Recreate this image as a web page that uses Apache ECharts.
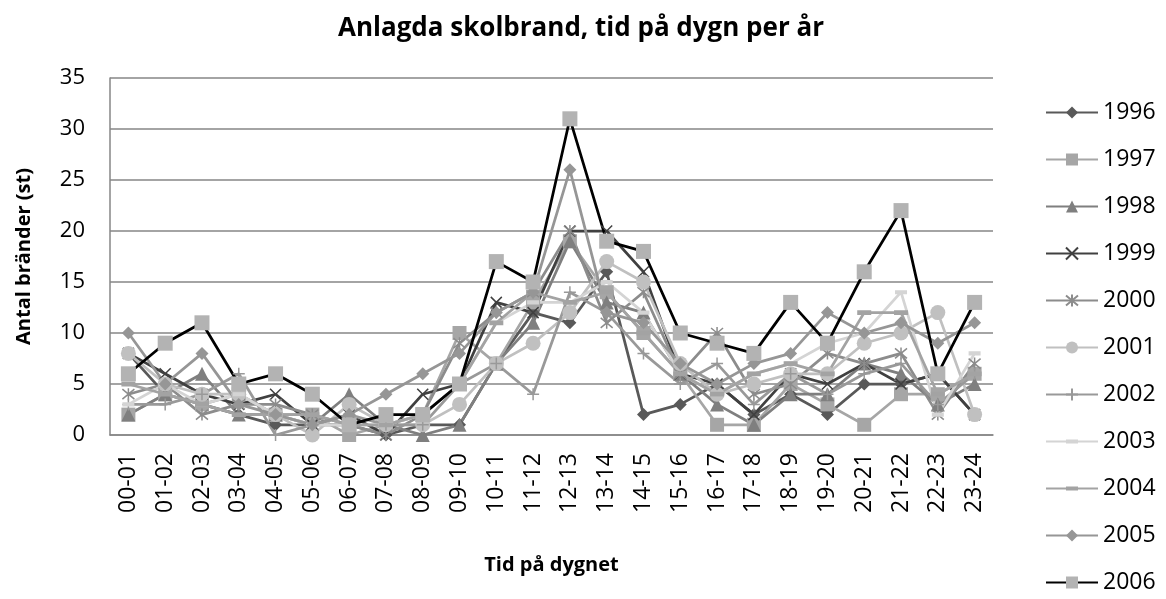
<!DOCTYPE html>
<html>
<head>
<meta charset="utf-8">
<script src="https://cdn.jsdelivr.net/npm/echarts@6/dist/echarts.min.js"></script>
<style>
  html, body { margin: 0; padding: 0; background: #fff; }
  #chart { width: 1166px; height: 599px; }
</style>
</head>
<body>
<div id="chart"></div>
<script>
const hours = ["00-01", "01-02", "02-03", "03-04", "04-05", "05-06", "06-07", "07-08",
  "08-09", "09-10", "10-11", "11-12", "12-13", "13-14", "14-15", "15-16",
  "16-17", "17-18", "18-19", "19-20", "20-21", "21-22", "22-23", "23-24"];

const y1996 = [8, 4, 3, 2, 1, 1, 1, 0, 1, 1, 7, 12, 11, 16, 2, 3, 5, 2, 4, 2, 5, 5, 6, 2];
const y1997 = [2, 4, 3, 4, 2, 2, 0, 1, 2, 10, 7, 13, 19, 14, 10, 6, 1, 1, 5, 3, 1, 4, 4, 6];
const y1998 = [2, 4, 6, 2, 2, 1, 4, 1, 0, 1, 7, 11, 19, 13, 12, 6, 3, 1, 4, 4, 7, 6, 3, 5];
const y1999 = [8, 6, 4, 3, 4, 1, 2, 0, 4, 5, 13, 12, 20, 20, 16, 6, 5, 2, 6, 5, 7, 5, 6, 2];
const y2000 = [4, 5, 2, 3, 3, 2, 1, 0, 2, 9, 12, 14, 20, 11, 14, 6, 10, 4, 5, 8, 7, 8, 2, 7];
const y2001 = [8, 5, 4, 4, 2, 0, 3, 1, 1, 3, 7, 9, 12, 17, 15, 7, 4, 5, 6, 6, 9, 10, 12, 2];
const y2002 = [3, 3, 4, 6, 0, 1, 2, 1, 1, 5, 7, 4, 14, 12, 8, 5, 7, 3, 6, 4, 6, 7, 3, 6];
const y2003 = [3, 5, 3, 4, 2, 1, 1, 1, 2, 5, 11, 13, 13, 15, 12, 6, 4, 6, 7, 9, 10, 14, 2, 8];
const y2004 = [5, 4, 3, 2, 2, 2, 1, 1, 2, 5, 11, 14, 13, 14, 10, 6, 4, 6, 7, 6, 12, 12, 4, 6];
const y2005 = [10, 5, 8, 3, 2, 1, 2, 4, 6, 8, 12, 14, 26, 12, 11, 7, 5, 7, 8, 12, 10, 11, 9, 11];
const y2006 = [6, 9, 11, 5, 6, 4, 1, 2, 2, 5, 17, 15, 31, 19, 18, 10, 9, 8, 13, 9, 16, 22, 6, 13];

const FONT = "Open Sans";
const crossPath = "path://M0,0L10,10M10,0L0,10";
const starPath = "path://M0,0L10,10M10,0L0,10M5,-1L5,11";
const plusPath = "path://M5,0L5,10M0,5L10,5";
// short bar inside a square box (corner stubs keep the box square)
const barPath = "path://M0,0L0.01,0M0,3.3L10,3.3L10,6.7L0,6.7ZM10,10L9.99,10";

function mkSeries(name, data, lineColor, markColor, symbol, size, stroke) {
  return {
    name: name,
    type: "line",
    data: data,
    symbol: symbol,
    symbolSize: size,
    lineStyle: { color: lineColor, width: 2.75 },
    itemStyle: stroke
      ? { color: markColor, borderColor: markColor, borderWidth: 1.5 }
      : { color: markColor },
    emphasis: { disabled: true },
  };
}

const chart = echarts.init(document.getElementById("chart"));
chart.setOption({
  animation: false,
  title: {
    text: "Anlagda skolbrand, tid på dygn per år",
    left: 576,
    textAlign: "center",
    top: 11,
    textStyle: { fontFamily: FONT, fontSize: 26, fontWeight: "bold", color: "#000" },
  },
  grid: { left: 110, right: 173, top: 78, bottom: 164 },
  legend: {
    orient: "vertical",
    left: 1045,
    top: 101,
    padding: 0,
    itemWidth: 52,
    itemHeight: 15,
    itemGap: 24,
    textStyle: { fontFamily: FONT, fontSize: 23, color: "#000" },
    data: ["1996", "1997", "1998", "1999", "2000", "2001", "2002", "2003", "2004", "2005", "2006"],
  },
  xAxis: {
    type: "category",
    data: hours,
    boundaryGap: true,
    name: "Tid på dygnet",
    nameLocation: "middle",
    nameGap: 120,
    nameTextStyle: { fontFamily: FONT, fontSize: 20, fontWeight: "bold", color: "#000" },
    axisLine: { lineStyle: { color: "#868686", width: 1.5 } },
    axisTick: { show: false },
    axisLabel: { rotate: 90, fontFamily: FONT, fontSize: 23, color: "#000", margin: 18 },
  },
  yAxis: {
    type: "value",
    min: 0,
    max: 35,
    interval: 5,
    name: "Antal bränder (st)",
    nameLocation: "middle",
    nameGap: 76,
    nameTextStyle: { fontFamily: FONT, fontSize: 20, fontWeight: "bold", color: "#000" },
    axisLine: { show: true, lineStyle: { color: "#868686", width: 1.5 } },
    axisTick: { show: false },
    axisLabel: { fontFamily: FONT, fontSize: 22, color: "#000", margin: 25 },
    splitLine: { lineStyle: { color: "#868686", width: 1.5 } },
  },
  series: [
    mkSeries("1996", y1996, "#595959", "#595959", "diamond", 13),
    mkSeries("1997", y1997, "#a6a6a6", "#a6a6a6", "rect", 14),
    mkSeries("1998", y1998, "#7f7f7f", "#7f7f7f", "triangle", 14),
    mkSeries("1999", y1999, "#404040", "#404040", crossPath, 11, true),
    mkSeries("2000", y2000, "#8c8c8c", "#8c8c8c", starPath, 12, true),
    mkSeries("2001", y2001, "#c0c0c0", "#c0c0c0", "circle", 15),
    mkSeries("2002", y2002, "#999999", "#999999", plusPath, 12, true),
    mkSeries("2003", y2003, "#d4d4d4", "#d4d4d4", barPath, 12),
    mkSeries("2004", y2004, "#a3a3a3", "#a3a3a3", barPath, 14),
    mkSeries("2005", y2005, "#969696", "#969696", "diamond", 13),
    mkSeries("2006", y2006, "#000000", "#b3b3b3", "rect", 15),
  ],
});
</script>
</body>
</html>
